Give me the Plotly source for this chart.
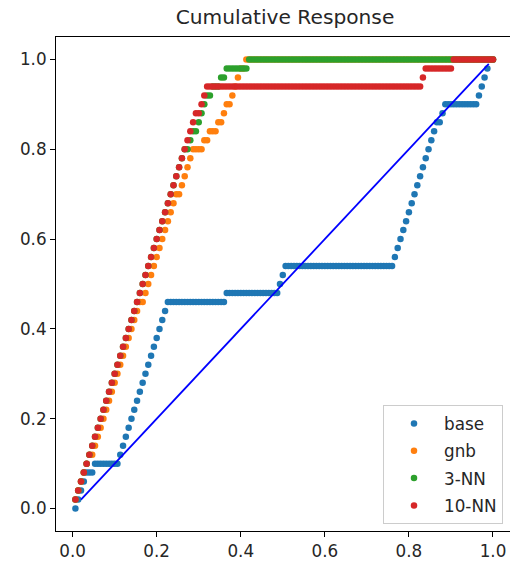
import plotly.graph_objects as go

# ---- data ----
N_SAMPLES = 150          # points per curve (x = fraction of samples examined)
TOTAL_POSITIVES = 50     # y = cumulative positives found / total positives

SERIES_NAMES = ["base", "gnb", "3-NN", "10-NN"]

# cumulative number of positives found after each sample (150 values each)
base_hits = [
    0, 1, 2, 3, 4, 4, 4, 5, 5, 5,
    5, 5, 5, 5, 5, 5, 6, 7, 8, 9,
    10, 11, 12, 13, 14, 15, 16, 17, 18, 19,
    20, 21, 22, 23, 23, 23, 23, 23, 23, 23,
    23, 23, 23, 23, 23, 23, 23, 23, 23, 23,
    23, 23, 23, 23, 24, 24, 24, 24, 24, 24,
    24, 24, 24, 24, 24, 24, 24, 24, 24, 24,
    24, 24, 24, 25, 26, 27, 27, 27, 27, 27,
    27, 27, 27, 27, 27, 27, 27, 27, 27, 27,
    27, 27, 27, 27, 27, 27, 27, 27, 27, 27,
    27, 27, 27, 27, 27, 27, 27, 27, 27, 27,
    27, 27, 27, 27, 28, 29, 30, 31, 32, 33,
    34, 35, 36, 37, 38, 39, 40, 41, 42, 43,
    43, 44, 45, 45, 45, 45, 45, 45, 45, 45,
    45, 45, 45, 45, 46, 47, 48, 49, 50, 50,
]

gnb_hits = [
    1, 2, 3, 4, 5, 6, 6, 7, 8, 9,
    10, 11, 12, 13, 14, 15, 16, 17, 18, 19,
    20, 21, 22, 23, 23, 24, 25, 26, 27, 28,
    29, 30, 31, 32, 33, 34, 35, 35, 36, 37,
    38, 39, 40, 40, 40, 40, 41, 41, 42, 42,
    42, 43, 43, 44, 45, 45, 46, 47, 48, 49,
    49, 50, 50, 50, 50, 50, 50, 50, 50, 50,
    50, 50, 50, 50, 50, 50, 50, 50, 50, 50,
    50, 50, 50, 50, 50, 50, 50, 50, 50, 50,
    50, 50, 50, 50, 50, 50, 50, 50, 50, 50,
    50, 50, 50, 50, 50, 50, 50, 50, 50, 50,
    50, 50, 50, 50, 50, 50, 50, 50, 50, 50,
    50, 50, 50, 50, 50, 50, 50, 50, 50, 50,
    50, 50, 50, 50, 50, 50, 50, 50, 50, 50,
    50, 50, 50, 50, 50, 50, 50, 50, 50, 50,
]

knn3_hits = [
    1, 2, 3, 4, 5, 6, 7, 8, 9, 10,
    11, 12, 13, 14, 15, 16, 17, 18, 19, 20,
    21, 22, 23, 24, 25, 26, 27, 28, 29, 30,
    31, 32, 33, 34, 35, 36, 37, 38, 39, 40,
    40, 41, 42, 42, 43, 44, 45, 46, 46, 47,
    47, 47, 48, 48, 49, 49, 49, 49, 49, 49,
    49, 49, 50, 50, 50, 50, 50, 50, 50, 50,
    50, 50, 50, 50, 50, 50, 50, 50, 50, 50,
    50, 50, 50, 50, 50, 50, 50, 50, 50, 50,
    50, 50, 50, 50, 50, 50, 50, 50, 50, 50,
    50, 50, 50, 50, 50, 50, 50, 50, 50, 50,
    50, 50, 50, 50, 50, 50, 50, 50, 50, 50,
    50, 50, 50, 50, 50, 50, 50, 50, 50, 50,
    50, 50, 50, 50, 50, 50, 50, 50, 50, 50,
    50, 50, 50, 50, 50, 50, 50, 50, 50, 50,
]

knn10_hits = [
    1, 2, 3, 4, 5, 6, 7, 8, 9, 10,
    11, 12, 13, 14, 15, 16, 17, 18, 19, 20,
    21, 22, 23, 24, 25, 26, 27, 28, 29, 30,
    31, 32, 33, 34, 35, 36, 37, 38, 39, 40,
    41, 42, 43, 44, 44, 45, 46, 47, 47, 47,
    47, 47, 47, 47, 47, 47, 47, 47, 47, 47,
    47, 47, 47, 47, 47, 47, 47, 47, 47, 47,
    47, 47, 47, 47, 47, 47, 47, 47, 47, 47,
    47, 47, 47, 47, 47, 47, 47, 47, 47, 47,
    47, 47, 47, 47, 47, 47, 47, 47, 47, 47,
    47, 47, 47, 47, 47, 47, 47, 47, 47, 47,
    47, 47, 47, 47, 47, 47, 47, 47, 47, 47,
    47, 47, 47, 47, 48, 49, 49, 49, 49, 49,
    49, 49, 49, 49, 49, 50, 50, 50, 50, 50,
    50, 50, 50, 50, 50, 50, 50, 50, 50, 50,
]

# diagonal reference line end points
diag_x = [0.02, 0.99]
diag_y = [0.02, 0.99]

x_ticks = [0.0, 0.2, 0.4, 0.6, 0.8, 1.0]
y_ticks = [0.0, 0.2, 0.4, 0.6, 0.8, 1.0]

# ---- figure ----
COLORS = ["#1f77b4", "#ff7f0e", "#2ca02c", "#d62728"]
FONT = "DejaVu Sans"
TEXT_COLOR = "#262626"

x_frac = [(i + 1) / N_SAMPLES for i in range(N_SAMPLES)]
all_hits = [base_hits, gnb_hits, knn3_hits, knn10_hits]

fig = go.Figure()
for name, hits, color in zip(SERIES_NAMES, all_hits, COLORS):
    fig.add_trace(go.Scatter(
        x=x_frac,
        y=[h / TOTAL_POSITIVES for h in hits],
        mode="markers",
        name=name,
        legendgroup=name,
        marker=dict(color=color, size=6.5, line=dict(width=0)),
    ))

fig.add_trace(go.Scatter(
    x=diag_x, y=diag_y, mode="lines", showlegend=False,
    line=dict(color="#0000ff", width=1.8),
))

fig.update_layout(
    width=510, height=565,
    margin=dict(l=56, r=0, t=37, b=34, autoexpand=False),
    paper_bgcolor="white", plot_bgcolor="white",
    font=dict(family=FONT, size=16.8, color=TEXT_COLOR),
    title=dict(text="Cumulative Response", x=285 / 510, xanchor="center",
               xref="container", yref="container",
               y=1 - 17 / 565, yanchor="middle",
               font=dict(family=FONT, size=20.2, color=TEXT_COLOR)),
    showlegend=True,
    legend=dict(x=(383 - 56) / 454, y=(531 - 405) / 494,
                xanchor="left", yanchor="top",
                bgcolor="rgba(255,255,255,0.8)", bordercolor="#cccccc",
                borderwidth=1, font=dict(family=FONT, size=16.8, color=TEXT_COLOR),
                itemwidth=50, tracegroupgap=2.5, traceorder="grouped"),
)
fig.update_xaxes(
    range=[-0.0395, 1.0405], tickvals=x_ticks, tickformat=".1f",
    automargin=False,
    showgrid=False, zeroline=False,
    showline=True, linecolor="black", linewidth=1, mirror=True,
    ticks="outside", ticklen=5, tickcolor="black", tickwidth=1,
)
fig.update_yaxes(
    range=[-0.05, 1.05], tickvals=y_ticks, tickformat=".1f",
    automargin=False,
    showgrid=False, zeroline=False,
    showline=True, linecolor="black", linewidth=1, mirror=False,
    ticks="outside", ticklen=5, tickcolor="black", tickwidth=1,
)

fig.write_html(
    "out.html",
    config={"displayModeBar": False},
    post_script="document.body.style.margin='0';document.body.style.padding='0';",
)
